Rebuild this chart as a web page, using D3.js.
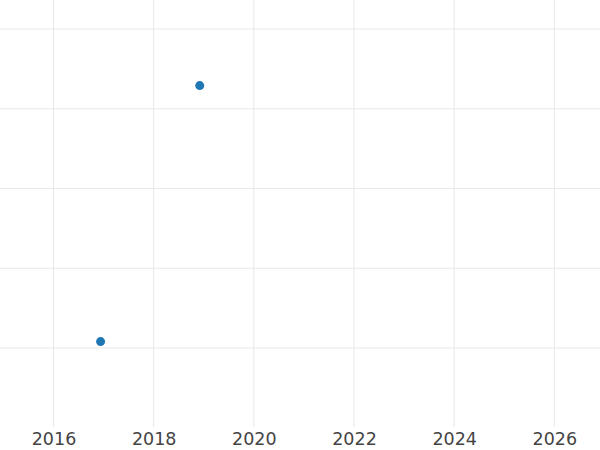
<!DOCTYPE html>
<html>
<head>
<meta charset="utf-8">
<script src="https://cdn.jsdelivr.net/npm/d3@7"></script>
<style>
  html, body { margin: 0; padding: 0; background: #fff; }
  svg { display: block; }
</style>
</head>
<body>
<div id="chart"></div>
<script>
// Data
const years = [2016.94, 2018.92];
const values = [0.08, 3.29];
const xTickValues = [2016, 2018, 2020, 2022, 2024, 2026];
const yTickValues = [0, 1, 2, 3, 4];

const width = 600, height = 450;
const svg = d3.select("#chart").append("svg")
  .attr("width", width).attr("height", height);

const x = d3.scaleLinear().domain([2016, 2022]).range([53.5, 354]);
const y = d3.scaleLinear().domain([0, 4]).range([348, 29]);
const plotBottom = 427;

// Gridlines
const grid = svg.append("g");
grid.selectAll("line.v").data(xTickValues).join("line")
  .attr("class", "v")
  .attr("x1", d => x(d)).attr("x2", d => x(d))
  .attr("y1", 0).attr("y2", plotBottom)
  .attr("stroke", "#e8e8e8").attr("stroke-width", 1);
grid.selectAll("line.h").data(yTickValues).join("line")
  .attr("class", "h")
  .attr("x1", 0).attr("x2", width)
  .attr("y1", d => y(d)).attr("y2", d => y(d))
  .attr("stroke", "#e8e8e8").attr("stroke-width", 1);

// X axis labels
const xAxis = d3.axisBottom(x).tickValues(xTickValues).tickFormat(d3.format("d")).tickSize(0).tickPadding(6);
const gx = svg.append("g").attr("transform", `translate(0,${plotBottom})`).call(xAxis);
gx.select(".domain").remove();
gx.selectAll("text")
  .attr("font-family", "DejaVu Sans, sans-serif")
  .attr("font-size", 17.5)
  .attr("fill", "#444");

// Points
svg.append("g").selectAll("circle").data(years.map((d, i) => ({x: d, y: values[i]})))
  .join("circle")
  .attr("cx", d => x(d.x)).attr("cy", d => y(d.y))
  .attr("r", 4.5)
  .attr("fill", "#1f77b4");
</script>
</body>
</html>
